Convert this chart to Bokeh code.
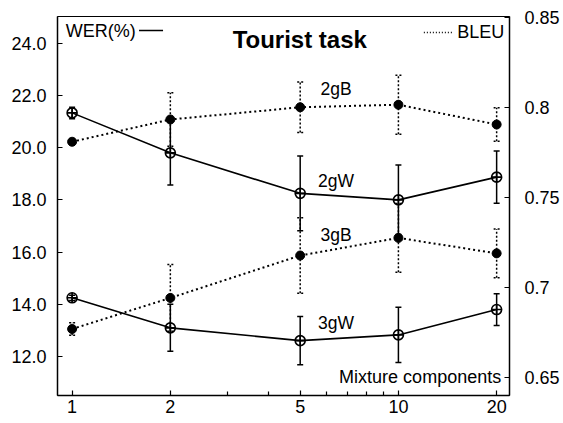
from bokeh.plotting import figure
from bokeh.models import (Range1d, LinearAxis, FixedTicker, Whisker, TeeHead,
                          ColumnDataSource, Label, PrintfTickFormatter)
from bokeh.embed import file_html
from bokeh.resources import INLINE
import math

# ---------------- data ----------------
components = [1, 2, 5, 10, 20]
minor_components = [3, 4, 6, 7, 8, 9]

wer_2g = [21.33, 19.80, 18.25, 18.00, 18.87]
wer_2g_err = [0.22, 1.23, 1.43, 1.33, 1.00]
wer_3g = [14.25, 13.10, 12.61, 12.83, 13.80]
wer_3g_err = [0.10, 0.90, 0.92, 1.06, 0.61]

bleu_2g = [0.781, 0.7934, 0.8002, 0.8016, 0.7906]
bleu_2g_err = [0.0015, 0.0149, 0.0141, 0.0164, 0.0093]
bleu_3g = [0.6768, 0.6941, 0.7177, 0.7275, 0.7189]
bleu_3g_err = [0.0035, 0.0186, 0.0210, 0.0191, 0.0136]

wer_ticks = [12, 14, 16, 18, 20, 22, 24]
bleu_ticks = [0.65, 0.7, 0.75, 0.8, 0.85]
bleu_tick_labels = ["0.65", "0.7", "0.75", "0.8", "0.85"]
x_tick_labels = ["1", "2", "5", "10", "20"]

series_labels = ["2gB", "2gW", "3gB", "3gW"]
title_text = "Tourist task"
x_title = "Mixture components"

# ---------------- figure ----------------
FONT = "Liberation Sans"
XMIN, XMAX = 0.902, 21.9
YMIN, YMAX = 10.51, 25.02
BMIN, BMAX = 0.6398, 0.8507

p = figure(frame_width=452, frame_height=379, x_axis_type="log",
           x_range=Range1d(XMIN, XMAX), y_range=Range1d(YMIN, YMAX),
           output_backend="svg", toolbar_location=None,
           min_border_left=57, min_border_right=46,
           min_border_top=16, min_border_bottom=25)
p.extra_y_ranges = {"bleu": Range1d(BMIN, BMAX)}
p.grid.visible = False
p.outline_line_color = "black"
p.outline_line_width = 1
p.background_fill_color = "white"
p.border_fill_color = "white"


def fx(f):
    return 10 ** (math.log10(XMIN) + f * (math.log10(XMAX) - math.log10(XMIN)))


def fy(f):
    return YMIN + f * (YMAX - YMIN)


def style_axis(ax):
    ax.major_tick_in = 5
    ax.major_tick_out = 0
    ax.minor_tick_in = 4
    ax.minor_tick_out = 0
    ax.axis_line_width = 1.5
    ax.major_tick_line_width = 1.2
    ax.minor_tick_line_width = 1.2
    ax.major_label_text_font = FONT
    ax.major_label_text_font_size = "18px"
    ax.major_label_text_color = "black"


xa = p.xaxis[0]
xa.ticker = FixedTicker(ticks=components, minor_ticks=minor_components)
xa.major_label_overrides = {c: l for c, l in zip(components, x_tick_labels)}
style_axis(xa)
xa.major_label_standoff = 4

ya = p.yaxis[0]
ya.ticker = FixedTicker(ticks=wer_ticks)
ya.formatter = PrintfTickFormatter(format="%.1f")
style_axis(ya)
ya.minor_tick_line_color = None
ya.major_label_standoff = 11

ra = LinearAxis(y_range_name="bleu", ticker=FixedTicker(ticks=bleu_ticks))
ra.major_label_overrides = {t: l for t, l in zip(bleu_ticks, bleu_tick_labels)}
style_axis(ra)
ra.minor_tick_line_color = None
ra.major_label_standoff = 15
p.add_layout(ra, "right")

# ---------------- error bars ----------------
def whisker(x, y, err, range_name, dashed):
    src = ColumnDataSource(dict(x=x, lo=[v - e for v, e in zip(y, err)],
                                hi=[v + e for v, e in zip(y, err)]))
    kw = dict(line_width=1.5, line_color="black", line_dash="2 2" if dashed else "solid")
    w = Whisker(source=src, base="x", lower="lo", upper="hi", dimension="height",
                line_color="black", line_width=1.5,
                line_dash="2 2" if dashed else "solid",
                upper_head=TeeHead(size=6, **kw), lower_head=TeeHead(size=6, **kw))
    if range_name:
        w.y_range_name = range_name
    p.add_layout(w)


whisker(components, wer_2g, wer_2g_err, None, False)
whisker(components, wer_3g, wer_3g_err, None, False)
whisker(components, bleu_2g, bleu_2g_err, "bleu", True)
whisker(components, bleu_3g, bleu_3g_err, "bleu", True)

# ---------------- lines & markers ----------------
for ys in (wer_2g, wer_3g):
    p.line(components, ys, line_color="black", line_width=1.6)
    p.scatter(components, ys, marker="circle_cross", size=10, line_color="black",
              line_width=1.6, fill_color=None)

for ys in (bleu_2g, bleu_3g):
    p.line(components, ys, line_color="black", line_width=2, line_dash="2 3",
           y_range_name="bleu")
    p.scatter(components, ys, marker="circle", size=9, color="black",
              y_range_name="bleu")

# ---------------- texts ----------------
def label(x, y, text, size="18px", align="left", bold=False):
    p.add_layout(Label(x=x, y=y, text=text, text_font=FONT, text_font_size=size,
                       text_align=align, text_baseline="middle",
                       text_font_style="bold" if bold else "normal",
                       text_color="black"))


label(fx(0.536), fy(0.940), title_text, size="24px", align="center", bold=True)
label(fx(0.0184), fy(0.963), "WER(%)")
label(fx(0.8844), fy(0.958), "BLEU")
label(fx(0.9816), fy(0.0483), x_title, align="right")

lab_pos = [0.8074, 0.567, 0.4222, 0.19]
for t, f in zip(series_labels, lab_pos):
    label(fx(0.6164), fy(f), t, size="17.5px", align="center")

# legend sample lines
p.line([fx(0.1804), fx(0.2335)], [fy(0.963)] * 2, line_color="black", line_width=1.6)
p.line([fx(0.8105), fx(0.8733)], [fy(0.958)] * 2, line_color="black", line_width=1.5,
       line_dash="1 2")

open("out.html", "w").write(file_html(p, INLINE))
